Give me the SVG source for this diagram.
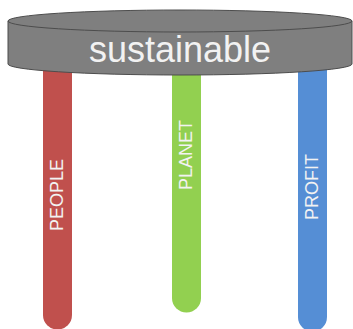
<svg xmlns="http://www.w3.org/2000/svg" width="353" height="329" viewBox="0 0 353 329">
<style>
.leg-label{font-family:"Liberation Sans",Arial,sans-serif;font-size:18px;fill:#F2F2F2;text-anchor:middle;dominant-baseline:central}
.top{fill:#7F7F7F;stroke:#4D4D4D;stroke-width:1}
</style>
<rect width="353" height="329" fill="#ffffff"/>
<g id="leg-people">
<path d="M43,60 H72 V315 A14.5,14.5 0 0 1 43,315 Z" fill="#C0504D"/>
<text class="leg-label" transform="translate(57,195) rotate(-90)">PEOPLE</text>
</g>
<g id="leg-planet">
<path d="M172,60 H201 V298 A14.5,14.5 0 0 1 172,298 Z" fill="#92D050"/>
<text class="leg-label" transform="translate(186,155) rotate(-90)">PLANET</text>
</g>
<g id="leg-profit">
<path d="M298,60 H327 V317 A14.5,14.5 0 0 1 298,317 Z" fill="#558ED5"/>
<text class="leg-label" transform="translate(312,187) rotate(-90)">PROFIT</text>
</g>
<g id="tabletop">
<path class="top" d="M8,21 V64 A172,11 0 0 0 352,64 V21 Z"/>
<ellipse class="top" cx="180" cy="21" rx="172" ry="11"/>
<text x="180" y="62" font-family="Liberation Sans,Arial,sans-serif" font-size="36" fill="#F2F2F2" text-anchor="middle">sustainable</text>
</g>
<g id="connectors"/>
</svg>
